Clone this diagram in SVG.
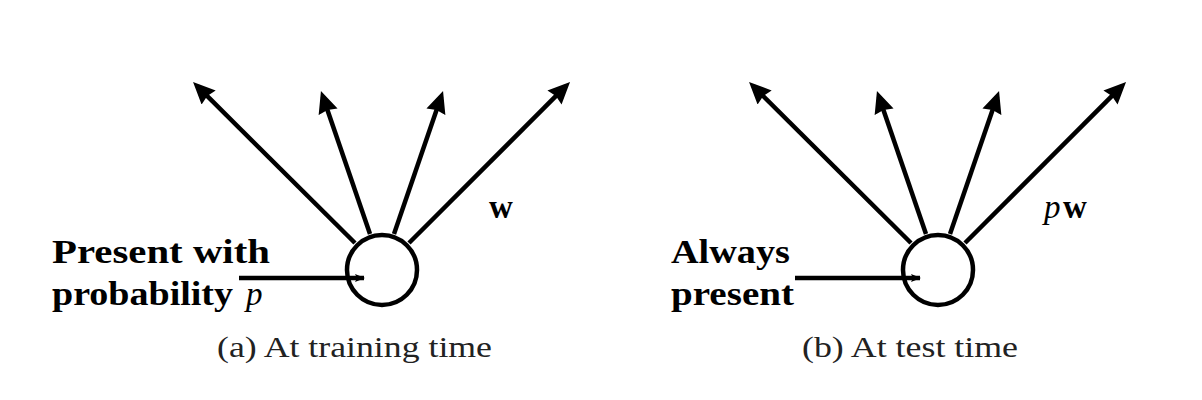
<svg xmlns="http://www.w3.org/2000/svg" width="1202" height="400" viewBox="0 0 1202 400">
<style>
.ln{stroke:#000;stroke-width:4.5;fill:none}
.out{marker-end:url(#big)}
.inp{marker-end:url(#small)}
.nd{stroke:#000;stroke-width:4.5;fill:none}
.b{font-family:"Liberation Serif","Times New Roman",serif;font-weight:bold;font-size:33px;fill:#000}
.r{font-family:"Liberation Serif","Times New Roman",serif;font-size:30px;fill:#222}
.i{font-family:"Liberation Serif","Times New Roman",serif;font-style:italic;font-size:33px;fill:#000}
</style>
<defs>
<marker id="big" markerUnits="userSpaceOnUse" viewBox="0 0 22 20" markerWidth="22" markerHeight="20" refX="16" refY="10" orient="auto">
<path d="M0,0 L22,10 L0,20 L2,10 Z" fill="#000"/>
</marker>
<marker id="small" markerUnits="userSpaceOnUse" viewBox="0 0 10 8" markerWidth="10" markerHeight="8" refX="9" refY="4" orient="auto">
<path d="M0,0 L10,4 L0,8 L2,4 Z" fill="#000"/>
</marker>
</defs>
<rect width="1202" height="400" fill="#fff"/>
<g id="connectors">
<line class="ln out" x1="355" y1="243" x2="197.3" y2="86.2"/>
<line class="ln out" x1="370" y1="234" x2="322.9" y2="96.7"/>
<line class="ln out" x1="394" y1="234" x2="441.1" y2="96.7"/>
<line class="ln out" x1="409" y1="243" x2="565.8" y2="86.2"/>
<line class="ln inp" x1="239" y1="278" x2="364" y2="278"/>
<line class="ln out" x1="911" y1="243" x2="753.3" y2="86.2"/>
<line class="ln out" x1="926" y1="234" x2="878.9" y2="96.7"/>
<line class="ln out" x1="950" y1="234" x2="997.1" y2="96.7"/>
<line class="ln out" x1="965" y1="243" x2="1121.8" y2="86.2"/>
<line class="ln inp" x1="795" y1="278" x2="920" y2="278"/>
</g>
<g id="node-a">
<circle class="nd" cx="382" cy="270" r="35"/>
</g>
<g id="node-b">
<circle class="nd" cx="938" cy="270" r="35"/>
</g>
<g id="labels-a">
<text class="b" x="52" y="263" textLength="218" lengthAdjust="spacingAndGlyphs">Present with</text>
<text class="b" x="52" y="305" textLength="181" lengthAdjust="spacingAndGlyphs">probability</text>
<text class="i" x="246" y="305">p</text>
<text class="b" x="489" y="218" font-size="37">w</text>
<text class="r" x="217" y="357" textLength="275" lengthAdjust="spacingAndGlyphs">(a) At training time</text>
</g>
<g id="labels-b">
<text class="b" x="671" y="263" textLength="119" lengthAdjust="spacingAndGlyphs">Always</text>
<text class="b" x="671" y="305" textLength="123" lengthAdjust="spacingAndGlyphs">present</text>
<text class="i" x="1044" y="218">p</text>
<text class="b" x="1063" y="218" font-size="37">w</text>
<text class="r" x="802" y="357" textLength="216" lengthAdjust="spacingAndGlyphs">(b) At test time</text>
</g>
</svg>
